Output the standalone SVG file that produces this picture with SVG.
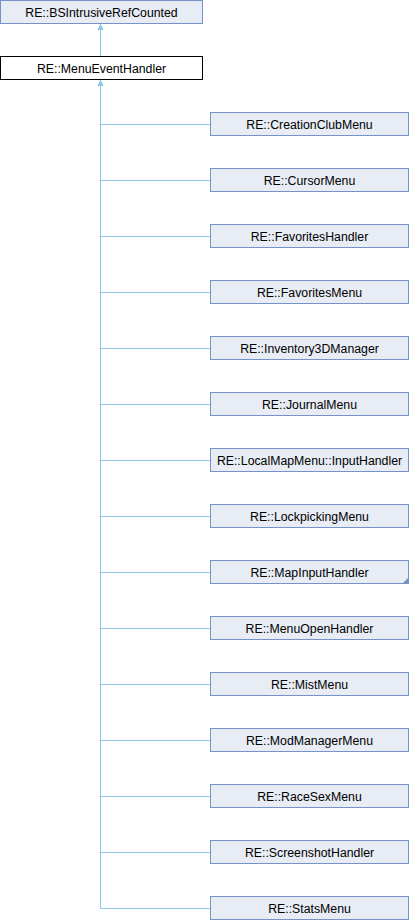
<svg xmlns="http://www.w3.org/2000/svg" width="410" height="920" viewBox="0 0 410 920">
<style>
.n rect{fill:#E8ECF5;stroke:#7792C8;stroke-width:1}
.cur rect{fill:#FFFFFF;stroke:#000000;stroke-width:1}
text{font-family:"Liberation Sans",Arial,sans-serif;font-size:12.3px;fill:#000;text-anchor:middle}
.e{stroke:#8CC6E8;stroke-width:1;fill:none}
.ah{fill:#8CC6E8;stroke:#8CC6E8}
</style>
<rect width="410" height="920" fill="#FFFFFF"/>
<g id="edges">
<line class="e" x1="100.5" y1="24" x2="100.5" y2="57"/>
<polygon class="ah" points="100.5,24.5 98,29.5 103,29.5"/>
<line class="e" x1="100.5" y1="80" x2="100.5" y2="908.5"/>
<polygon class="ah" points="100.5,80.5 98,85.5 103,85.5"/>
<path class="e" d="M100.5,124.5H210M100.5,180.5H210M100.5,236.5H210M100.5,292.5H210M100.5,348.5H210M100.5,404.5H210M100.5,460.5H210M100.5,516.5H210M100.5,572.5H210M100.5,628.5H210M100.5,684.5H210M100.5,740.5H210M100.5,796.5H210M100.5,852.5H210M100.5,908.5H210"/>
</g>
<g id="BSIntrusiveRefCounted" class="n"><rect x="0.5" y="0.5" width="202" height="23"/><text x="101.5" y="16.5">RE::BSIntrusiveRefCounted</text></g>
<g id="MenuEventHandler" class="cur"><rect x="0.5" y="56.5" width="202" height="23"/><text x="101.5" y="72.5">RE::MenuEventHandler</text></g>
<g id="CreationClubMenu" class="n"><rect x="210.5" y="112.5" width="198" height="23"/><text x="309.5" y="128.5">RE::CreationClubMenu</text></g>
<g id="CursorMenu" class="n"><rect x="210.5" y="168.5" width="198" height="23"/><text x="309.5" y="184.5">RE::CursorMenu</text></g>
<g id="FavoritesHandler" class="n"><rect x="210.5" y="224.5" width="198" height="23"/><text x="309.5" y="240.5">RE::FavoritesHandler</text></g>
<g id="FavoritesMenu" class="n"><rect x="210.5" y="280.5" width="198" height="23"/><text x="309.5" y="296.5">RE::FavoritesMenu</text></g>
<g id="Inventory3DManager" class="n"><rect x="210.5" y="336.5" width="198" height="23"/><text x="309.5" y="352.5">RE::Inventory3DManager</text></g>
<g id="JournalMenu" class="n"><rect x="210.5" y="392.5" width="198" height="23"/><text x="309.5" y="408.5">RE::JournalMenu</text></g>
<g id="LocalMapMenuInputHandler" class="n"><rect x="210.5" y="448.5" width="198" height="23"/><text x="309.5" y="464.5">RE::LocalMapMenu::InputHandler</text></g>
<g id="LockpickingMenu" class="n"><rect x="210.5" y="504.5" width="198" height="23"/><text x="309.5" y="520.5">RE::LockpickingMenu</text></g>
<g id="MapInputHandler" class="n"><rect x="210.5" y="560.5" width="198" height="23"/><polygon points="409,577 409,584 402,584" fill="#7792C8"/><text x="309.5" y="576.5">RE::MapInputHandler</text></g>
<g id="MenuOpenHandler" class="n"><rect x="210.5" y="616.5" width="198" height="23"/><text x="309.5" y="632.5">RE::MenuOpenHandler</text></g>
<g id="MistMenu" class="n"><rect x="210.5" y="672.5" width="198" height="23"/><text x="309.5" y="688.5">RE::MistMenu</text></g>
<g id="ModManagerMenu" class="n"><rect x="210.5" y="728.5" width="198" height="23"/><text x="309.5" y="744.5">RE::ModManagerMenu</text></g>
<g id="RaceSexMenu" class="n"><rect x="210.5" y="784.5" width="198" height="23"/><text x="309.5" y="800.5">RE::RaceSexMenu</text></g>
<g id="ScreenshotHandler" class="n"><rect x="210.5" y="840.5" width="198" height="23"/><text x="309.5" y="856.5">RE::ScreenshotHandler</text></g>
<g id="StatsMenu" class="n"><rect x="210.5" y="896.5" width="198" height="23"/><text x="309.5" y="912.5">RE::StatsMenu</text></g>
</svg>
